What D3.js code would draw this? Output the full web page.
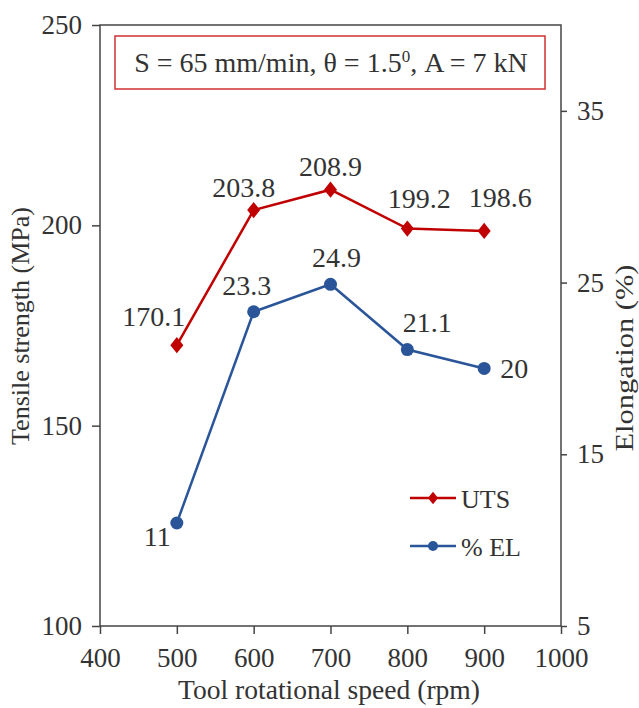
<!DOCTYPE html>
<html>
<head>
<meta charset="utf-8">
<script src="https://cdn.jsdelivr.net/npm/d3@7"></script>
<style>
  body { margin: 0; background: white; }
  svg text { fill: #333; }
</style>
</head>
<body>
<div id="container"></div>
<script>
let w = 639;
let h = 708;

// DATA
let speeds = [500, 600, 700, 800, 900];
let uts = [170.1, 203.8, 208.9, 199.2, 198.6];
let elong = [11, 23.3, 24.9, 21.1, 20];
let xTicks = [400, 500, 600, 700, 800, 900, 1000];
let leftTicks = [100, 150, 200, 250];
let rightTicks = [5, 15, 25, 35];

let padL = 100, padR = 561, padT = 25, padB = 626;
let red = "#c00000";
let blue = "#2a5599";
let serif = "Liberation Serif";

let viz = d3.select("#container").append("svg")
    .attr("width", w)
    .attr("height", h)
    .style("background-color", "white");

let x = d3.scaleLinear().domain([400, 1000]).range([padL, padR]);
let yL = d3.scaleLinear().domain([100, 250]).range([padB, padT]);
let yR = d3.scaleLinear().domain([5, 40]).range([padB, padT]);

// frame
viz.append("rect")
    .attr("x", padL).attr("y", padT)
    .attr("width", padR - padL).attr("height", padB - padT)
    .attr("fill", "none").attr("stroke", "#444").attr("stroke-width", 1.5);

// AXES
let xAxis = viz.append("g").attr("transform", "translate(0," + padB + ")")
    .call(d3.axisBottom(x).tickValues(xTicks).tickFormat(d3.format("d")).tickSize(8).tickPadding(14));
let lAxis = viz.append("g").attr("transform", "translate(" + padL + ",0)")
    .call(d3.axisLeft(yL).tickValues(leftTicks).tickSize(8).tickPadding(10));
let rAxis = viz.append("g").attr("transform", "translate(" + padR + ",0)")
    .call(d3.axisRight(yR).tickValues(rightTicks).tickSize(6).tickPadding(10));

[xAxis, lAxis, rAxis].forEach(a => {
  a.attr("font-family", serif);
  a.select(".domain").remove();
  a.selectAll(".tick line").attr("stroke", "#444").attr("stroke-width", 1.5);
  a.selectAll(".tick text")
    .attr("font-family", serif)
    .style("font-size", "27px")
    .attr("fill", "#333");
});

// axis titles
viz.append("text")
    .attr("x", 329).attr("y", 699)
    .attr("text-anchor", "middle")
    .attr("font-family", serif)
    .attr("textLength", 302).attr("lengthAdjust", "spacingAndGlyphs")
    .style("font-size", "27px")
    .text("Tool rotational speed (rpm)");
viz.append("text")
    .attr("transform", "translate(29,326) rotate(-90)")
    .attr("text-anchor", "middle")
    .attr("font-family", serif)
    .attr("textLength", 238).attr("lengthAdjust", "spacingAndGlyphs")
    .style("font-size", "25px")
    .text("Tensile strength (MPa)");
viz.append("text")
    .attr("transform", "translate(633,358) rotate(-90)")
    .attr("text-anchor", "middle")
    .attr("font-family", serif)
    .attr("textLength", 187).attr("lengthAdjust", "spacingAndGlyphs")
    .style("font-size", "26px")
    .text("Elongation (%)");

// condition box
viz.append("rect")
    .attr("x", 115).attr("y", 36).attr("width", 430).attr("height", 53)
    .attr("fill", "white").attr("stroke", "#d03030").attr("stroke-width", 1.5);
let cond = viz.append("text")
    .attr("x", 331).attr("y", 72)
    .attr("text-anchor", "middle")
    .attr("font-family", serif)
    .style("font-size", "28px");
cond.append("tspan").text("S = 65 mm/min,  θ = 1.5");
cond.append("tspan").attr("dy", -10).style("font-size", "17px").text("0");
cond.append("tspan").attr("dy", 10).text(", A = 7 kN");

// LINES
let utsData = speeds.map((s, i) => ({ s: s, v: uts[i] }));
let elData = speeds.map((s, i) => ({ s: s, v: elong[i] }));

let utsLine = d3.line().x(d => x(d.s)).y(d => yL(d.v));
let elLine = d3.line().x(d => x(d.s)).y(d => yR(d.v));

viz.append("path").datum(utsData)
    .attr("d", utsLine).attr("fill", "none")
    .attr("stroke", red).attr("stroke-width", 2.5);
viz.append("path").datum(elData)
    .attr("d", elLine).attr("fill", "none")
    .attr("stroke", blue).attr("stroke-width", 2.5);

// slightly tall diamond marker
let tallDiamond = {
  draw(ctx, size) {
    let a = Math.sqrt(size) / 2;
    ctx.moveTo(0, -a * 1.25);
    ctx.lineTo(a, 0);
    ctx.lineTo(0, a * 1.25);
    ctx.lineTo(-a, 0);
    ctx.closePath();
  }
};
viz.selectAll(".utsPt").data(utsData).enter()
  .append("path")
    .attr("class", "utsPt")
    .attr("d", d3.symbol().type(tallDiamond).size(169))
    .attr("transform", d => "translate(" + x(d.s) + "," + yL(d.v) + ")")
    .attr("fill", red);
viz.selectAll(".elPt").data(elData).enter()
  .append("circle")
    .attr("class", "elPt")
    .attr("cx", d => x(d.s)).attr("cy", d => yR(d.v))
    .attr("r", 6.5)
    .attr("fill", blue);

// value labels (offsets from each point)
let utsOff = [[-23, -19], [-10, -13], [0, -14], [12, -21], [16, -24]];
let elOff = [[-6, 23], [-7, -17], [6, -17], [20, -18], [16, 10]];
let elAnchor = ["end", "middle", "middle", "middle", "start"];

viz.selectAll(".utsLab").data(utsData).enter()
  .append("text")
    .attr("class", "utsLab")
    .attr("x", (d, i) => x(d.s) + utsOff[i][0])
    .attr("y", (d, i) => yL(d.v) + utsOff[i][1])
    .attr("text-anchor", "middle")
    .attr("font-family", serif)
    .style("font-size", "28px")
    .text(d => d.v.toFixed(1));
viz.selectAll(".elLab").data(elData).enter()
  .append("text")
    .attr("class", "elLab")
    .attr("x", (d, i) => x(d.s) + elOff[i][0])
    .attr("y", (d, i) => yR(d.v) + elOff[i][1])
    .attr("text-anchor", (d, i) => elAnchor[i])
    .attr("font-family", serif)
    .style("font-size", "28px")
    .text(d => d.v);

// LEGEND
let legend = [
  { name: "UTS", color: red, y: 498, shape: "diamond" },
  { name: "% EL", color: blue, y: 546, shape: "circle" }
];
legend.forEach(l => {
  viz.append("line")
      .attr("x1", 410).attr("x2", 456)
      .attr("y1", l.y).attr("y2", l.y)
      .attr("stroke", l.color).attr("stroke-width", 2.5);
  if (l.shape == "diamond") {
    viz.append("path").attr("d", d3.symbol().type(tallDiamond).size(100))
        .attr("transform", "translate(433," + l.y + ")")
        .attr("fill", l.color);
  } else {
    viz.append("circle").attr("cx", 433).attr("cy", l.y).attr("r", 5)
        .attr("fill", l.color);
  }
  viz.append("text")
      .attr("x", 461).attr("y", l.y + 10)
      .attr("font-family", serif)
      .style("font-size", "26px")
      .text(l.name);
});
</script>
</body>
</html>
